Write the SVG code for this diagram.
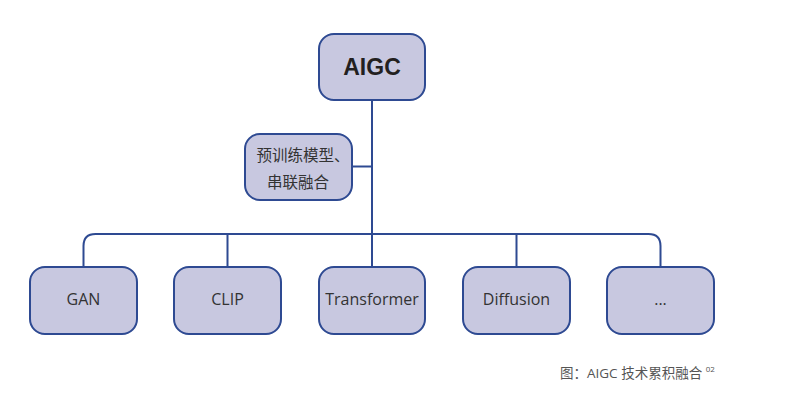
<svg xmlns="http://www.w3.org/2000/svg" width="799" height="405" viewBox="0 0 799 405">
<style>
.box{fill:#c8c8e0;stroke:#2e4a92;stroke-width:2}
.ln{fill:none;stroke:#2e4a92;stroke-width:2}
.t{font-family:"Open Sans","Noto Sans CJK SC",sans-serif;font-size:16px;fill:#333;text-anchor:middle}
.z{font-family:"Noto Sans CJK SC",sans-serif;font-size:15.5px;fill:#333;text-anchor:middle}
.h{font-family:"Liberation Sans",Arial,sans-serif;font-size:23px;font-weight:bold;fill:#231f20;text-anchor:middle}
.c{font-family:"Open Sans","Noto Sans CJK SC",sans-serif;font-size:13.5px;fill:#555}
</style>
<rect width="799" height="405" fill="#fff"/>
<g id="connectors">
<path class="ln" d="M372 100V234"/>
<path class="ln" d="M352 166.5H372"/>
<path class="ln" d="M83.5 267V246Q83.5 234 95.5 234H648.5Q660.5 234 660.5 246V267"/>
<path class="ln" d="M227.5 234V267M372 234V267M516.5 234V267"/>
</g>
<g id="aigc"><rect class="box" x="319" y="34" width="106" height="66" rx="15"/><text class="h" x="372" y="75">AIGC</text></g>
<g id="pretrain"><rect class="box" x="245" y="134" width="107" height="66" rx="15"/>
<text class="z" x="303" y="161">预训练模型、</text><text class="z" x="298" y="188">串联融合</text></g>
<g id="gan"><rect class="box" x="30" y="267" width="107" height="67" rx="15"/><text class="t" x="83.5" y="305">GAN</text></g>
<g id="clip"><rect class="box" x="174" y="267" width="107" height="67" rx="15"/><text class="t" x="227.5" y="305">CLIP</text></g>
<g id="transformer"><rect class="box" x="319" y="267" width="106" height="67" rx="15"/><text class="t" x="372" y="305">Transformer</text></g>
<g id="diffusion"><rect class="box" x="463" y="267" width="107" height="67" rx="15"/><text class="t" x="516.5" y="305">Diffusion</text></g>
<g id="more"><rect class="box" x="607" y="267" width="107" height="67" rx="15"/><text class="t" x="660.5" y="305">...</text></g>
<text class="c" x="560" y="378">图：AIGC 技术累积融合 <tspan font-size="8" dy="-6">02</tspan></text>
</svg>
